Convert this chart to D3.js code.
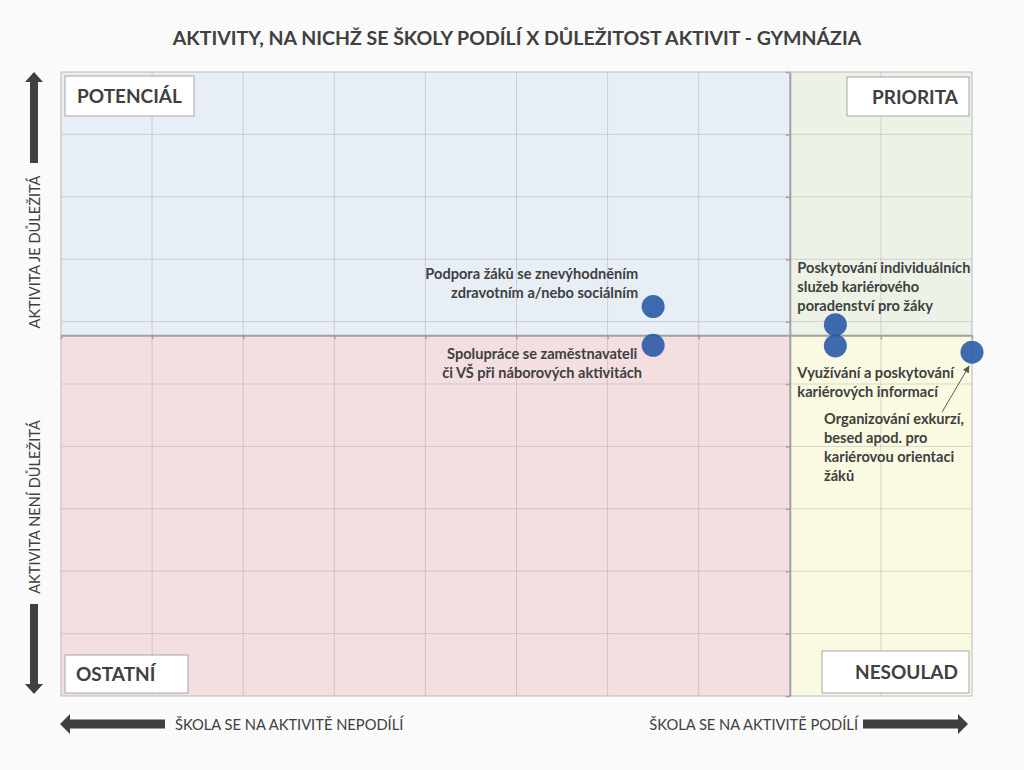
<!DOCTYPE html>
<html><head><meta charset="utf-8">
<script src="https://cdn.jsdelivr.net/npm/d3@7/dist/d3.min.js"></script>
<style>
html,body{margin:0;padding:0;background:#fafafa;}
svg{display:block;}
text{font-family:Lato,"Open Sans",sans-serif;fill:#404040;}
</style></head>
<body>
<script>
// ---- data ----
const title = "AKTIVITY, NA NICHŽ SE ŠKOLY PODÍLÍ X DŮLEŽITOST AKTIVIT - GYMNÁZIA";
const activities = [
  "Podpora žáků se znevýhodněním zdravotním a/nebo sociálním",
  "Spolupráce se zaměstnavateli či VŠ při náborových aktivitách",
  "Poskytování individuálních služeb kariérového poradenství pro žáky",
  "Využívání a poskytování kariérových informací",
  "Organizování exkurzí, besed apod. pro kariérovou orientaci žáků"
];
const labelLines = [
  ["Podpora žáků se znevýhodněním", "zdravotním a/nebo sociálním"],
  ["Spolupráce se zaměstnavateli", "či VŠ při náborových aktivitách"],
  ["Poskytování individuálních", "služeb kariérového", "poradenství pro žáky"],
  ["Využívání a poskytování", "kariérových informací"],
  ["Organizování exkurzí,", "besed apod. pro", "kariérovou orientaci", "žáků"]
];
const participation = [65, 65, 85, 85, 100];   // x: škola se podílí (%)
const importance = [62.4, 56.2, 59.5, 56.1, 55.1]; // y: důležitost
const xCross = 80, yCross = 57.8;
const xTicks = [0, 10, 20, 30, 40, 50, 60, 70, 80, 90, 100];
const yTicks = [0, 10, 20, 30, 40, 50, 60, 70, 80, 90, 100];
const quadrantNames = ["POTENCIÁL", "PRIORITA", "OSTATNÍ", "NESOULAD"];
const yAxisTop = "AKTIVITA JE DŮLEŽITÁ", yAxisBottom = "AKTIVITA NENÍ DŮLEŽITÁ";
const xAxisLeft = "ŠKOLA SE NA AKTIVITĚ NEPODÍLÍ", xAxisRight = "ŠKOLA SE NA AKTIVITĚ PODÍLÍ";

// ---- layout / style ----
const W = 1024, H = 770;
const plot = {l: 61, r: 972, t: 72, b: 696};
const labelPos = [ // offsets from the point, anchor
  {dx: -15, dy: -33, anchor: "end"},
  {dx: -111, dy: 9, anchor: "middle"},
  {dx: -38, dy: -57, anchor: "start"},
  {dx: -38, dy: 27, anchor: "start"},
  {dx: -148, dy: 67, anchor: "start"}
];
const lineH = 19;

const svg = d3.select("body").append("svg").attr("width", W).attr("height", H);
svg.append("rect").attr("width", W).attr("height", H).attr("fill", "#fafafa");

const x = d3.scaleLinear().domain([0, 100]).range([plot.l, plot.r]);
const y = d3.scaleLinear().domain([0, 100]).range([plot.b, plot.t]);
const cx = x(xCross), cy = y(yCross);

// quadrants
const quads = [
  {x0: plot.l, x1: cx, y0: plot.t, y1: cy, fill: "#e8eef6"},
  {x0: cx, x1: plot.r, y0: plot.t, y1: cy, fill: "#edf2e7"},
  {x0: plot.l, x1: cx, y0: cy, y1: plot.b, fill: "#f4dfe0"},
  {x0: cx, x1: plot.r, y0: cy, y1: plot.b, fill: "#fafae2"}
];
svg.selectAll("rect.q").data(quads).join("rect").attr("class", "q")
  .attr("x", d => d.x0).attr("y", d => d.y0)
  .attr("width", d => d.x1 - d.x0).attr("height", d => d.y1 - d.y0)
  .attr("fill", d => d.fill);

// grid
const g = svg.append("g");
g.selectAll("line.vg").data(xTicks.filter(v => v > 0 && v < 100 && v !== xCross)).join("line")
  .attr("x1", d => x(d)).attr("x2", d => x(d)).attr("y1", plot.t).attr("y2", plot.b)
  .attr("stroke", "#7f7f7f").attr("stroke-opacity", 0.27).attr("stroke-width", 1);
g.selectAll("line.hg").data(yTicks.filter(v => v > 0 && v < 100)).join("line")
  .attr("y1", d => y(d)).attr("y2", d => y(d)).attr("x1", plot.l).attr("x2", plot.r)
  .attr("stroke", "#7f7f7f").attr("stroke-opacity", 0.27).attr("stroke-width", 1);

// border
svg.append("rect").attr("x", plot.l).attr("y", plot.t)
  .attr("width", plot.r - plot.l).attr("height", plot.b - plot.t)
  .attr("fill", "none").attr("stroke", "#c4c4c4").attr("stroke-width", 1.2);

// axes at the crossing
const xAxis = svg.append("g").attr("transform", `translate(0,${cy})`)
  .call(d3.axisBottom(x).tickValues(xTicks).tickSize(4).tickSizeOuter(0).tickFormat(""));
const yAxis = svg.append("g").attr("transform", `translate(${cx},0)`)
  .call(d3.axisLeft(y).tickValues(yTicks).tickSize(4).tickSizeOuter(0).tickFormat(""));
[xAxis, yAxis].forEach(a => {
  a.select(".domain").attr("stroke", "#a0a0a0").attr("stroke-width", 2);
  a.selectAll(".tick line").attr("stroke", "#a0a0a0").attr("stroke-width", 1.5);
});

// quadrant label boxes
const boxes = [
  {name: quadrantNames[0], x0: 65, x1: 194, y0: 76, y1: 116, tx: 77, anchor: "start"},
  {name: quadrantNames[1], x0: 847, x1: 969, y0: 77, y1: 116, tx: 958, anchor: "end"},
  {name: quadrantNames[2], x0: 65, x1: 188, y0: 655, y1: 693, tx: 76, anchor: "start"},
  {name: quadrantNames[3], x0: 822, x1: 969, y0: 651, y1: 693, tx: 958, anchor: "end"}
];
const bg = svg.selectAll("g.box").data(boxes).join("g");
bg.append("rect").attr("x", d => d.x0).attr("y", d => d.y0)
  .attr("width", d => d.x1 - d.x0).attr("height", d => d.y1 - d.y0)
  .attr("fill", "#ffffff").attr("stroke", "#a6a6a6").attr("stroke-width", 1);
bg.append("text").attr("x", d => d.tx).attr("y", d => (d.y0 + d.y1) / 2 + 7)
  .attr("text-anchor", d => d.anchor).attr("font-size", 19).attr("font-weight", 700)
  .text(d => d.name);

// leader line for last label
svg.append("defs").append("marker").attr("id", "ah").attr("viewBox", "0 0 10 10")
  .attr("refX", 9).attr("refY", 5).attr("markerWidth", 7).attr("markerHeight", 7)
  .attr("orient", "auto").append("path").attr("d", "M0,0L10,5L0,10z").attr("fill", "#595959");
{
  const i = 4;
  const px = x(participation[i]), py = y(importance[i]);
  svg.append("line").attr("x1", px - 30).attr("y1", py + 60).attr("x2", px - 3).attr("y2", py + 14)
    .attr("stroke", "#595959").attr("stroke-width", 1).attr("marker-end", "url(#ah)");
}

// points
svg.selectAll("circle.pt").data(activities).join("circle").attr("class", "pt")
  .attr("cx", (d, i) => x(participation[i])).attr("cy", (d, i) => y(importance[i]))
  .attr("r", 11.5).attr("fill", "#2457a6").attr("fill-opacity", 0.88);

// data labels
activities.forEach((a, i) => {
  const px = x(participation[i]), py = y(importance[i]);
  const p = labelPos[i];
  const t = svg.append("text").attr("font-size", 14.6).attr("font-weight", 700)
    .attr("text-anchor", p.anchor);
  labelLines[i].forEach((ln, k) => {
    t.append("tspan").attr("x", px + p.dx).attr("y", py + p.dy + k * lineH + 5).text(ln);
  });
});

// title
svg.append("text").attr("x", 517).attr("y", 45).attr("text-anchor", "middle")
  .attr("font-size", 19.5).attr("font-weight", 700).text(title);

// y-axis side labels & arrows
svg.append("text").attr("transform", "translate(40,252) rotate(-90)").attr("text-anchor", "middle")
  .attr("font-size", 14.6).text(yAxisTop);
svg.append("text").attr("transform", "translate(40,507) rotate(-90)").attr("text-anchor", "middle")
  .attr("font-size", 14.6).text(yAxisBottom);
const arrowFill = "#404040";
svg.append("path").attr("fill", arrowFill)
  .attr("d", "M34,72 L43,82 L38,82 L38,163 L30,163 L30,82 L25,82 Z");
svg.append("path").attr("fill", arrowFill)
  .attr("d", "M34,694 L43,684 L38,684 L38,604 L30,604 L30,684 L25,684 Z");

// x-axis side labels & arrows
svg.append("text").attr("x", 175).attr("y", 730).attr("font-size", 14.7).text(xAxisLeft);
svg.append("text").attr("x", 858).attr("y", 730).attr("text-anchor", "end").attr("font-size", 14.7).text(xAxisRight);
svg.append("path").attr("fill", arrowFill)
  .attr("d", "M60,724 L70,714 L70,719.5 L165,719.5 L165,728.5 L70,728.5 L70,734 Z");
svg.append("path").attr("fill", arrowFill)
  .attr("d", "M968,724 L958,714 L958,719.5 L863,719.5 L863,728.5 L958,728.5 L958,734 Z");
</script>
</body></html>
